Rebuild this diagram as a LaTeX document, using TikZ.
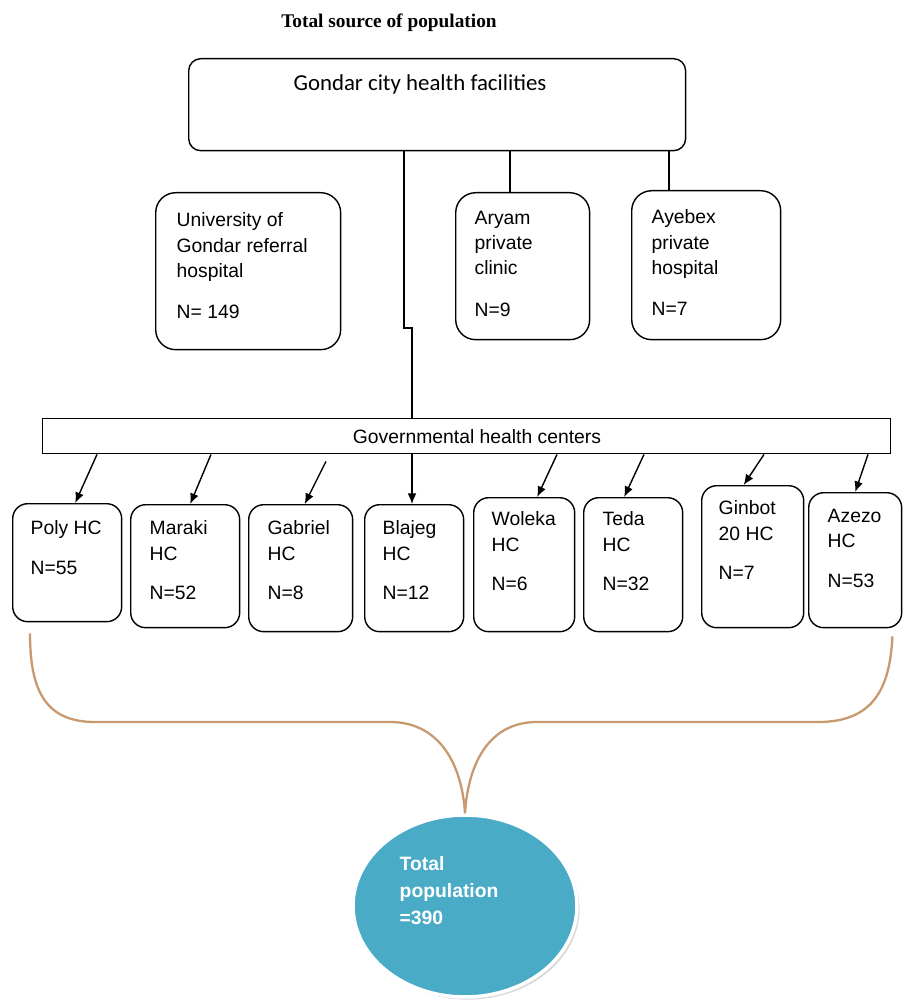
\documentclass[tikz,border=0pt]{standalone}
\usepackage{fontspec}
\setmainfont{Liberation Sans}
\newfontfamily\calfont{Carlito}
\newfontfamily\serffont{Liberation Serif}
\usetikzlibrary{shapes.geometric,calc,shadows,arrows.meta}
\definecolor{braceclr}{RGB}{200,152,110}
\definecolor{totalclr}{RGB}{74,171,198}
\tikzset{
  rbox/.style={draw, rounded corners=0.3cm, anchor=north west, inner sep=0pt},
  txt/.style={anchor=north west, align=left, inner sep=0pt, font=\fontsize{11}{14.5}\selectfont},
  arr/.style={-{Latex[length=6pt,width=5pt]}},
  brace/.style={draw=braceclr, line width=1.3pt},
}
\begin{document}
\begin{tikzpicture}[x=0.02cm, y=-0.02cm, line width=0.8pt]
\useasboundingbox (0,0) rectangle (903,1000);
\node[font=\serffont\bfseries\fontsize{11}{13}\selectfont, anchor=base] (title) at (389,28) {Total source of population};

% top level and the private facilities
\node[draw, rounded corners=0.24cm, anchor=north west, minimum width=9.94cm, minimum height=1.84cm] (city) at (188,58) {};
\node[font=\calfont\fontsize{13}{15}\selectfont, anchor=base] (cityT) at (420,91) {Gondar city health facilities};
\node[rbox, rounded corners=0.4cm, minimum width=3.7cm, minimum height=3.14cm] (uni) at (155,192) {};
\node[rbox, rounded corners=0.4cm, minimum width=2.68cm, minimum height=2.94cm] (aryam) at (455,192) {};
\node[rbox, rounded corners=0.4cm, minimum width=2.98cm, minimum height=2.98cm] (ayebex) at (631,190) {};
\node[txt] (uniT) at (176,212) {University of\\Gondar referral\\hospital\\[9pt]N= 149};
\node[txt] (aryamT) at (474,210) {Aryam\\private\\clinic\\[9pt]N=9};
\node[txt] (ayebexT) at (651,209) {Ayebex\\private\\hospital\\[9pt]N=7};

\coordinate (aryamIn) at ($(aryam.north west)+(55,0)$);
\coordinate (ayebexIn) at ($(ayebex.north west)+(38,0)$);
\draw (aryamIn |- city.south) -- (aryamIn);
\draw (ayebexIn |- city.south) -- (ayebexIn);

% governmental health centers
\node[draw, anchor=north west, inner sep=0pt, minimum width=16.96cm, minimum height=0.7cm] (govt) at (42,418) {};
\node[font=\fontsize{11}{14.5}\selectfont, anchor=base] (govtT) at (477,443) {Governmental health centers};
\coordinate (jogA) at (404,328);
\coordinate (jogB) at (412,328);
\draw (city.south -| jogA) -- (jogA) -- (jogB) -- (govt.north -| jogB);

\node[rbox, minimum width=2.18cm, minimum height=2.36cm] (poly) at (12,503) {};
\node[rbox, minimum width=2.18cm, minimum height=2.46cm] (maraki) at (130,504) {};
\node[rbox, minimum width=2.08cm, minimum height=2.54cm] (gabriel) at (248,504) {};
\node[rbox, minimum width=1.98cm, minimum height=2.54cm] (blajeg) at (364,504) {};
\node[rbox, minimum width=2.02cm, minimum height=2.68cm] (woleka) at (473,497) {};
\node[rbox, minimum width=1.98cm, minimum height=2.68cm] (teda) at (583,497) {};
\node[rbox, minimum width=2.04cm, minimum height=2.84cm] (ginbot) at (701,485) {};
\node[rbox, minimum width=1.86cm, minimum height=2.70cm] (azezo) at (808,492) {};

\node[txt] (polyT) at (30,520) {Poly HC\\[8pt]N=55};
\node[txt] (marakiT) at (149,520) {Maraki\\HC\\[8pt]N=52};
\node[txt] (gabrielT) at (267,520) {Gabriel\\HC\\[8pt]N=8};
\node[txt] (blajegT) at (382,520) {Blajeg\\HC\\[8pt]N=12};
\node[txt] (wolekaT) at (491,511) {Woleka\\HC\\[8pt]N=6};
\node[txt] (tedaT) at (602,511) {Teda\\HC\\[8pt]N=32};
\node[txt] (ginbotT) at (718,500) {Ginbot\\20 HC\\[8pt]N=7};
\node[txt] (azezoT) at (827,508) {Azezo\\HC\\[8pt]N=53};

\draw[arr] ($(govt.south west)+(55,0)$) -- ($(poly.north)+(8,0)$);
\draw[arr] ($(govt.south west)+(169,0)$) -- ($(maraki.north)+(5,0)$);
\draw[arr] ($(govt.south west)+(284,7)$) -- ($(gabriel.north)+(4,0)$);
\draw[arr] (govt.south -| jogB) -- (jogB |- blajeg.north);
\draw[arr] ($(govt.south west)+(515,0)$) -- ($(woleka.north)+(13,0)$);
\draw[arr] ($(govt.south west)+(602,0)$) -- ($(teda.north)+(-9,0)$);
\draw[arr] ($(govt.south west)+(722,0)$) -- ($(ginbot.north)+(-9,0)$);
\draw[arr] ($(govt.south west)+(826,0)$) -- (azezo.north);

% total
\node[ellipse, fill=totalclr, draw=white, line width=2pt, minimum width=4.48cm, minimum height=3.64cm,
  drop shadow={opacity=0.3, shadow xshift=1.5pt, shadow yshift=-1.5pt}] (total) at (465,906) {};
\node[txt, font=\bfseries\fontsize{11}{15.3}\selectfont, text=white] (totalT) at (399,856) {Total\\population\\=390};

\draw[brace] ($(poly.south west)+(18,11)$) .. controls (30,690) and (45,722) .. (95,722) -- (390,722)
  .. controls (440,722) and (462,765) .. (total.north);
\draw[brace] (total.north) .. controls (468,765) and (488,722) .. (537,722) -- (818,722)
  .. controls (872,722) and (890,690) .. ($(azezo.south east)+(-10,8)$);
\end{tikzpicture}
\end{document}
